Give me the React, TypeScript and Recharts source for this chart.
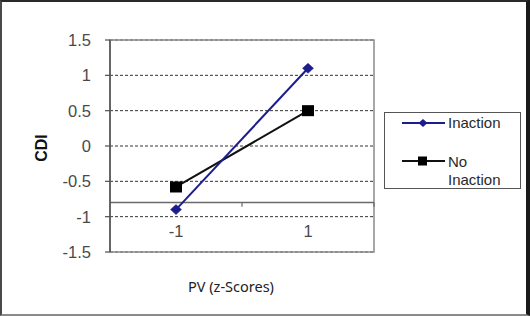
import React from 'react';
import { LineChart, Line, XAxis, YAxis, CartesianGrid, ReferenceLine, ReferenceArea } from 'recharts';

const categories = ['-1', '1'];
const inaction = [-0.9, 1.1];
const noInaction = [-0.58, 0.5];
const yTicks = [-1.5, -1, -0.5, 0, 0.5, 1, 1.5];
const xCross = -0.8;
const seriesNames = ['Inaction', 'No Inaction'];

const data = categories.map((c, i) => ({
  pos: i + 0.5,
  label: c,
  inaction: inaction[i],
  noInaction: noInaction[i],
}));

const ARIAL = '"Liberation Sans", Arial, sans-serif';
const NAVY = '#1c1c8e';

const Diamond = (props: any) => {
  const { cx, cy } = props;
  if (cx == null || cy == null) return null;
  return (
    <path
      d={`M${cx} ${cy - 5} L${cx + 5.5} ${cy} L${cx} ${cy + 5} L${cx - 5.5} ${cy} Z`}
      fill={NAVY}
      stroke={NAVY}
      strokeWidth={0.5}
    />
  );
};

const Square = (props: any) => {
  const { cx, cy } = props;
  if (cx == null || cy == null) return null;
  return <rect x={cx - 6} y={cy - 5.5} width={12} height={11} fill="#000" />;
};

export default function App() {
  return (
    <div
      style={{
        position: 'absolute',
        left: 0,
        top: 0,
        width: 530,
        height: 316,
        background: '#fff',
        overflow: 'hidden',
      }}
    >
      <LineChart
        width={530}
        height={316}
        data={data}
        margin={{ top: 40, right: 156, bottom: 34, left: 0 }}
      >
        <CartesianGrid vertical={false} stroke="#333" strokeDasharray="3 2" strokeWidth={1} />
        <ReferenceArea
          x1={0}
          x2={2}
          y1={-1.5}
          y2={1.5}
          fill="none"
          stroke="#8a8a8a"
          strokeWidth={1.5}
          fillOpacity={0}
        />
        <ReferenceLine y={xCross} stroke="#6a6a6a" strokeWidth={1.5} />
        <ReferenceLine
          segment={[
            { x: 1, y: xCross },
            { x: 1, y: xCross - 0.06 },
          ]}
          stroke="#6a6a6a"
          strokeWidth={1.2}
        />
        <ReferenceLine
          segment={[
            { x: 2, y: xCross },
            { x: 2, y: xCross - 0.06 },
          ]}
          stroke="#6a6a6a"
          strokeWidth={1.2}
        />
        <XAxis
          type="number"
          dataKey="pos"
          domain={[0, 2]}
          ticks={[0.5, 1.5]}
          tickFormatter={(v: number) => categories[Math.floor(v)]}
          axisLine={false}
          tickLine={false}
          height={30}
          tick={{ fontSize: 16.5, fill: '#4a4a4a', fontFamily: ARIAL, dy: -35 }}
        />
        <YAxis
          type="number"
          domain={[-1.5, 1.5]}
          ticks={yTicks}
          width={110}
          axisLine={{ stroke: '#505050', strokeWidth: 1.5 }}
          tickLine={{ stroke: '#505050', strokeWidth: 1.2 }}
          tickSize={5}
          tickMargin={14}
          tick={{ fontSize: 16.5, fill: '#4a4a4a', fontFamily: ARIAL }}
        />
        <Line
          type="linear"
          dataKey="noInaction"
          name={seriesNames[1]}
          stroke="#111"
          strokeWidth={2}
          dot={<Square />}
          isAnimationActive={false}
        />
        <Line
          type="linear"
          dataKey="inaction"
          name={seriesNames[0]}
          stroke={NAVY}
          strokeWidth={2}
          dot={<Diamond />}
          isAnimationActive={false}
        />
      </LineChart>

      {/* Axis titles */}
      <div
        style={{
          position: 'absolute',
          left: 42,
          top: 148,
          transform: 'translate(-50%, -50%) rotate(-90deg)',
          fontFamily: ARIAL,
          fontWeight: 'bold',
          fontSize: 16,
          color: '#111',
          whiteSpace: 'nowrap',
          lineHeight: 1,
        }}
      >
        CDI
      </div>
      <div
        style={{
          position: 'absolute',
          left: 231,
          top: 286,
          transform: 'translate(-50%, -50%)',
          fontFamily: '"Noto Sans", "Open Sans", sans-serif',
          fontSize: 14.5,
          color: '#222',
          whiteSpace: 'nowrap',
          lineHeight: 1,
        }}
      >
        PV (z-Scores)
      </div>

      {/* Legend */}
      <div
        style={{
          position: 'absolute',
          left: 384,
          top: 112,
          width: 137,
          height: 77,
          boxSizing: 'border-box',
          border: '1px solid #555',
          background: '#fff',
          fontFamily: ARIAL,
          fontSize: 15,
          color: '#2a2a2a',
        }}
      >
        <svg width={50} height={20} style={{ position: 'absolute', left: 15, top: 0 }}>
          <line x1={2} y1={10} x2={45} y2={10} stroke={NAVY} strokeWidth={2} />
          <path d="M23 6 L27.5 10 L23 14 L18.5 10 Z" fill={NAVY} />
        </svg>
        <div style={{ position: 'absolute', left: 63, top: 1, lineHeight: '18px' }}>{seriesNames[0]}</div>
        <svg width={50} height={20} style={{ position: 'absolute', left: 15, top: 38 }}>
          <line x1={2} y1={10} x2={45} y2={10} stroke="#111" strokeWidth={2} />
          <rect x={18} y={5.5} width={9} height={9} fill="#000" />
        </svg>
        <div style={{ position: 'absolute', left: 63, top: 40, lineHeight: '18px', width: 70 }}>
          No
          <br />
          Inaction
        </div>
      </div>

      {/* Frame */}
      <div
        style={{
          position: 'absolute',
          left: 0,
          top: 0,
          width: 530,
          height: 316,
          boxSizing: 'border-box',
          borderTop: '2px solid #2a2a2a',
          borderLeft: '2px solid #4a4a4a',
          borderRight: '4px solid #1a1a1a',
          borderBottom: '2px solid #8a8a8a',
          pointerEvents: 'none',
        }}
      />
    </div>
  );
}
